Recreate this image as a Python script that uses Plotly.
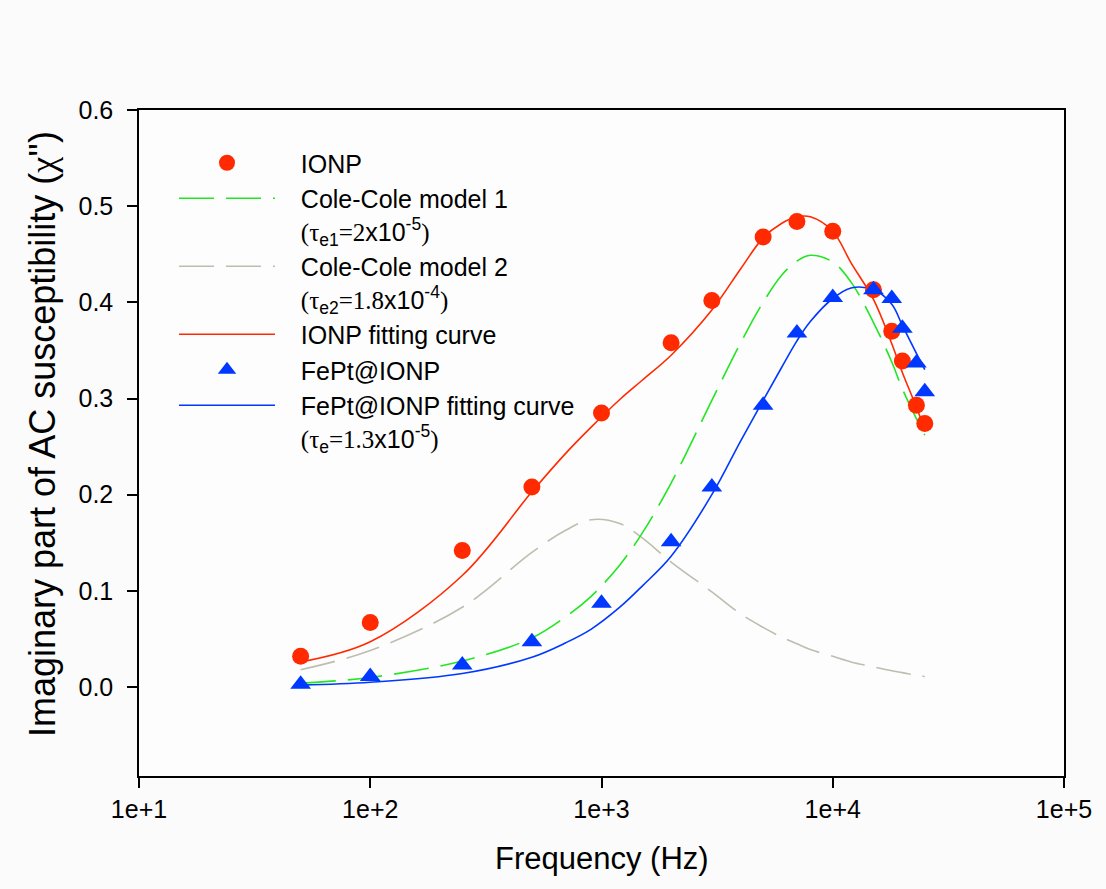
import plotly.graph_objects as go

# ---- measured data ----
freq_data = [50, 100, 250, 500, 1000, 2000, 3000, 5000, 7000, 10000, 15000, 18000, 20000, 23000, 25000]
ionp = [0.032, 0.067, 0.142, 0.208, 0.285, 0.358, 0.402, 0.468, 0.484, 0.474, 0.413, 0.370, 0.339, 0.293, 0.274]
fept_ionp = [0.003, 0.011, 0.023, 0.047, 0.087, 0.151, 0.208, 0.293, 0.368, 0.405, 0.413, 0.404, 0.373, 0.337, 0.307]

# ---- model / fitting curves ----
curve_freq = [50, 100, 250, 500, 700, 900, 1200, 1500, 2000, 3000, 4000, 5000, 6000, 7000, 8000,
              10000, 12000, 15000, 18000, 20000, 23000, 25000]
cole1 = [0.004, 0.010, 0.027, 0.051, 0.073, 0.094, 0.127, 0.160, 0.212, 0.298, 0.358, 0.400, 0.428, 0.443, 0.449,
         0.442, 0.421, 0.379, 0.338, 0.310, 0.279, 0.262]
cole2 = [0.018, 0.038, 0.083, 0.140, 0.163, 0.174, 0.170, 0.155, 0.130, 0.099, 0.076, 0.062, 0.052, 0.045, 0.039,
         0.032, 0.026, 0.021, 0.017, 0.015, 0.012, 0.011]
ionp_fit = [0.026, 0.047, 0.116, 0.203, 0.243, 0.270, 0.299, 0.319, 0.345, 0.392, 0.435, 0.467, 0.482, 0.489, 0.489,
            0.474, 0.441, 0.403, 0.357, 0.327, 0.291, 0.268]
fept_fit = [0.002, 0.005, 0.014, 0.031, 0.046, 0.060, 0.083, 0.105, 0.136, 0.200, 0.256, 0.298, 0.332, 0.360, 0.380,
            0.404, 0.415, 0.413, 0.398, 0.376, 0.347, 0.330]

x_tickvals = [10, 100, 1000, 10000, 100000]
x_ticktext = ["1e+1", "1e+2", "1e+3", "1e+4", "1e+5"]
y_tickvals = [0.0, 0.1, 0.2, 0.3, 0.4, 0.5, 0.6]
y_ticktext = ["0.0", "0.1", "0.2", "0.3", "0.4", "0.5", "0.6"]

RED = "#ff2a00"
BLUE = "#0038ff"
GREEN = "#22e622"
GRAY = "#bdbdb0"
SANS = "Liberation Sans, Arial, sans-serif"
SERIF = "Liberation Serif"
IND = "\u00a0\u00a0\u00a0"


def serif(s):
    return '<span style="font-family:%s">%s</span>' % (SERIF, s)


def tau(sub, val, exp):
    return IND + serif("(τ") + "<sub>" + sub + "</sub>" + serif("=" + val) + "x10<sup>" + exp + "</sup>" + serif(")")


name_ionp = IND + "IONP"
name_c1 = IND + "Cole-Cole model 1<br>" + tau("e1", "2", "-5")
name_c2 = IND + "Cole-Cole model 2<br>" + tau("e2", "1.8", "-4")
name_ifit = IND + "IONP fitting curve"
name_fept = IND + "FePt@IONP"
name_ffit = IND + "FePt@IONP fitting curve<br>" + tau("e", "1.3", "-5")

fig = go.Figure()
fig.add_trace(go.Scatter(x=curve_freq, y=cole2, mode="lines", name=name_c2, legendrank=3,
                         line=dict(color=GRAY, width=1.6, dash="35px,12px", shape="spline")))
fig.add_trace(go.Scatter(x=curve_freq, y=cole1, mode="lines", name=name_c1, legendrank=2,
                         line=dict(color=GREEN, width=1.6, dash="35px,12px", shape="spline")))
fig.add_trace(go.Scatter(x=curve_freq, y=ionp_fit, mode="lines", name=name_ifit, legendrank=4,
                         line=dict(color=RED, width=1.6, shape="spline")))
fig.add_trace(go.Scatter(x=curve_freq, y=fept_fit, mode="lines", name=name_ffit, legendrank=6,
                         line=dict(color=BLUE, width=1.6, shape="spline")))
fig.add_trace(go.Scatter(x=freq_data, y=ionp, mode="markers", name=name_ionp, legendrank=1,
                         marker=dict(symbol="circle", size=17, color=RED, line=dict(width=0))))
fig.add_trace(go.Scatter(x=freq_data, y=fept_ionp, mode="markers", name=name_fept, legendrank=5,
                         marker=dict(symbol="triangle-up", size=18, color=BLUE, line=dict(width=0))))

L, R, T, B = 139, 42, 110, 113
W, H = 1106, 889
pw, ph = W - L - R, H - T - B

fig.update_layout(
    width=W, height=H,
    margin=dict(l=L, r=R, t=T, b=B, pad=0),
    paper_bgcolor="#fbfbfb",
    plot_bgcolor="#fdfdfd",
    font=dict(family=SANS, size=24, color="black"),
    showlegend=True,
    legend=dict(
        x=(174 - L) / pw, y=(H - B - 140) / ph, xanchor="left", yanchor="top",
        bgcolor="rgba(0,0,0,0)", borderwidth=0,
        font=dict(family=SANS, size=25, color="black"),
        itemwidth=96, valign="top", tracegroupgap=0,
    ),
    xaxis=dict(
        type="log", range=[1, 5], tickmode="array", tickvals=x_tickvals, ticktext=x_ticktext,
        showgrid=False, zeroline=False, showline=True, linecolor="black", linewidth=1.5, mirror=True,
        ticks="outside", ticklen=10, tickwidth=1.5, tickcolor="black",
        tickfont=dict(family=SANS, size=25),
    ),
    yaxis=dict(
        range=[-0.0925, 0.6], tickmode="array", tickvals=y_tickvals, ticktext=y_ticktext,
        showgrid=False, zeroline=False, showline=True, linecolor="black", linewidth=1.5, mirror=True,
        ticks="outside", ticklen=10, tickwidth=1.5, tickcolor="black",
        tickfont=dict(family=SANS, size=25), ticklabelstandoff=9,
    ),
    annotations=[
        dict(text="Frequency (Hz)", xref="paper", yref="paper",
             x=(602 - L) / pw, y=(H - B - 858) / ph, xanchor="center", yanchor="middle",
             showarrow=False, font=dict(family=SANS, size=31)),
        dict(text="Imaginary part of AC susceptibility (" + serif("χ") + "'')", xref="paper", yref="paper",
             x=(42 - L) / pw, y=(H - B - 434) / ph, xanchor="center", yanchor="middle",
             textangle=-90, showarrow=False, font=dict(family=SANS, size=36)),
    ],
)

fig.write_html("out.html")
